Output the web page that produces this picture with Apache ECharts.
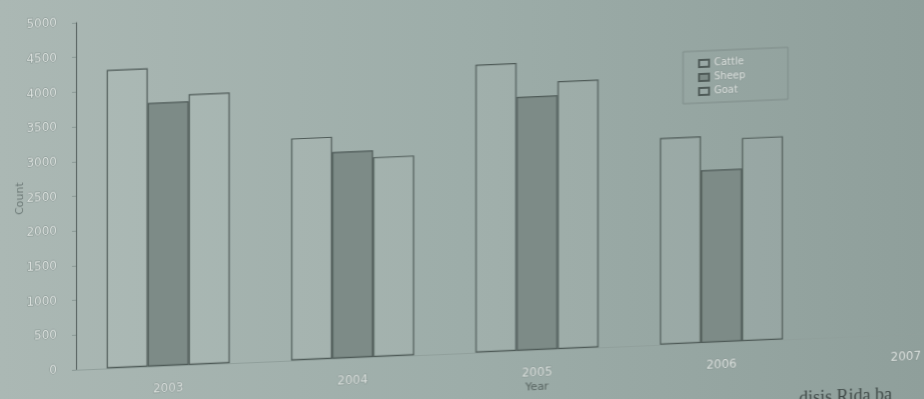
<!DOCTYPE html>
<html>
<head>
<meta charset="utf-8">
<title>Count by Year</title>
<script src="https://cdn.jsdelivr.net/npm/echarts@6/dist/echarts.min.js"></script>
<style>
html, body {
	margin: 0;
	padding: 0;
	width: 924px;
	height: 399px;
	overflow: hidden;
	background: linear-gradient(90deg, #abb8b4 0%, #9dada9 50%, #8f9f9b 100%);
}
/* the reference is a photo of a printed page, taken at a slant */
#chart {
	width: 924px;
	height: 460px;
	transform: skewY(-2.45deg);
	transform-origin: 0 0;
}
</style>
</head>
<body>
<div id="chart"></div>
<script>
// 数据
const years = ['2003', '2004', '2005', '2006', '2007'];
const cattle = [4300, 3200, 4150, 2980, null];
const sheep = [3800, 2980, 3660, 2490, null];
const goat = [3900, 2880, 3860, 2930, null];
const yTicks = { min: 0, max: 5000, interval: 500 };

const chart = echarts.init(document.getElementById('chart'), null, { renderer: 'canvas' });

const lineColor = '#4f5b58';
const font = 'DejaVu Sans';
// faded print: light strokes with a soft grey edge
const labelStyle = {
	color: '#dce2df',
	textBorderColor: '#869390',
	textBorderWidth: 1,
	fontSize: 12,
	fontFamily: font
};

function barSeries(name, data, fill) {
	return {
		name: name,
		type: 'bar',
		data: data,
		barWidth: 41,
		barGap: '0%',
		itemStyle: {
			color: fill,
			borderColor: lineColor,
			borderWidth: 1.2
		}
	};
}

const option = {
	backgroundColor: 'transparent',
	animation: false,
	textStyle: { fontFamily: font },
	grid: {
		left: 76,
		right: -74,
		top: 26,
		bottom: 87,
		outerBoundsMode: 'none'
	},
	legend: {
		orient: 'vertical',
		left: 683,
		top: 81,
		icon: 'rect',
		itemWidth: 10,
		itemHeight: 7,
		itemGap: 3,
		padding: [7, 42, 6, 15],
		borderColor: '#7e8c89',
		borderWidth: 1,
		textStyle: {
			color: '#dce2df',
			textBorderColor: '#8a9794',
			textBorderWidth: 1,
			fontSize: 10,
			fontFamily: font
		},
		data: ['Cattle', 'Sheep', 'Goat']
	},
	xAxis: {
		type: 'category',
		data: years,
		name: 'Year',
		nameLocation: 'middle',
		nameGap: 32,
		nameMoveOverlap: false,
		nameTextStyle: { color: '#56625f', fontSize: 11, fontFamily: font },
		axisLine: { show: true, lineStyle: { color: '#909f9b', width: 1 } },
		axisTick: { show: false },
		axisLabel: Object.assign({ margin: 17 }, labelStyle)
	},
	yAxis: {
		type: 'value',
		min: yTicks.min,
		max: yTicks.max,
		interval: yTicks.interval,
		name: 'Count',
		nameLocation: 'middle',
		nameGap: 50,
		nameMoveOverlap: false,
		nameTextStyle: { color: '#6f7c79', fontSize: 11, fontFamily: font },
		axisLine: { show: true, lineStyle: { color: lineColor, width: 1 } },
		axisTick: { show: true, length: 4, lineStyle: { color: '#8a9895' } },
		splitLine: { show: false },
		axisLabel: Object.assign({
			margin: 19,
			formatter: function (v) { return String(v); }
		}, labelStyle)
	},
	graphic: [{
		type: 'text',
		left: 799,
		top: 424,
		style: {
			text: 'disis Rida ba',
			fill: '#3f4947',
			font: '18px "Liberation Serif"'
		}
	}],
	series: [
		barSeries('Cattle', cattle, 'rgba(255,255,255,0.04)'),
		barSeries('Sheep', sheep, '#7d8b87'),
		barSeries('Goat', goat, 'rgba(255,255,255,0.04)')
	]
};

chart.setOption(option);
window.onresize = chart.resize;
</script>
</body>
</html>
